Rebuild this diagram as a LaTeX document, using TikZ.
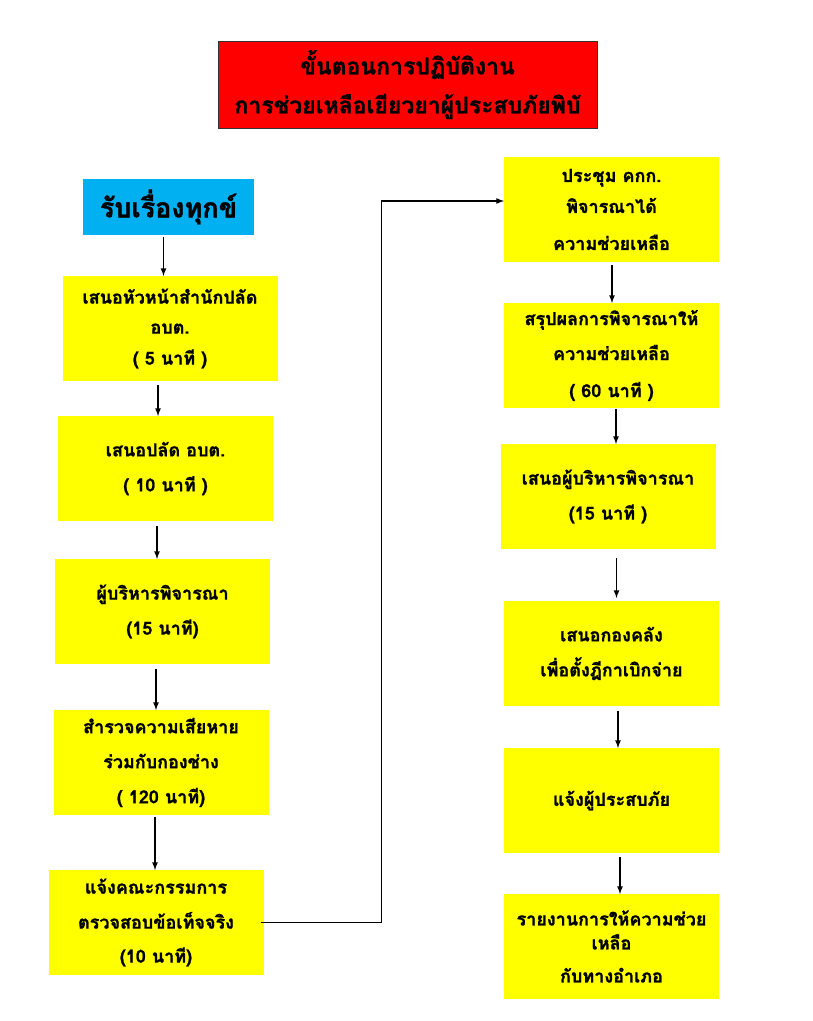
\documentclass[tikz,border=0pt]{standalone}
\usepackage{fontspec}
\setmainfont[Script=Thai, BoldFeatures={FakeBold=1.2}]{Loma}
\usepackage{xcolor}
\usetikzlibrary{arrows,shapes,positioning,calc}

\definecolor{boxyellow}{RGB}{255,255,0}
\definecolor{boxblue}{RGB}{0,176,240}
\definecolor{boxred}{RGB}{255,0,0}

\tikzset{
    stepbox/.style={rectangle, fill=boxyellow, minimum width=215pt, minimum height=105pt,
        inner sep=0pt, outer sep=0pt, align=center, font=\fontsize{18}{35}\selectfont\bfseries},
    flow/.style={->, >=latex, line width=1.6pt}
}

\begin{document}
\begin{tikzpicture}[node distance=40pt]
    \useasboundingbox (0,0) rectangle (812pt,-1021pt);

    \node[draw=black!80, line width=0.8pt, fill=boxred, minimum width=379pt, minimum height=87pt,
        align=center, font=\fontsize{23}{39}\selectfont\bfseries] (title) at (407.5pt,-84.5pt)
        {ขั้นตอนการปฏิบัติงาน\\การช่วยเหลือเยียวยาผู้ประสบภัยพิบั};

    % left column
    \node[fill=boxblue, minimum width=171pt, minimum height=56pt, outer sep=0pt,
        font=\fontsize{27}{30}\selectfont\bfseries] (rcv) at (168.5pt,-207pt) {รับเรื่องทุกข์};
    \node[stepbox, below=41pt of rcv, xshift=1.5pt] (head) {เสนอหัวหน้าสำนักปลัด\\[-5pt]อบต.\\[-4pt]( 5 นาที )};
    \node[stepbox, below=35pt of head, xshift=-4.5pt] (clerk) {เสนอปลัด อบต.\\( 10 นาที )};
    \node[stepbox, below=38pt of clerk, xshift=-3pt] (exec) {ผู้บริหารพิจารณา\\(15 นาที)};
    \node[stepbox, below=46pt of exec, xshift=-1.5pt] (survey) {สำรวจความเสียหาย\\ร่วมกับกองช่าง\\( 120 นาที)};
    \node[stepbox, below=55pt of survey, xshift=-5pt] (inform) {แจ้งคณะกรรมการ\\ตรวจสอบข้อเท็จจริง\\[-1pt](10 นาที)};

    % right column
    \node[stepbox] (meet) at (611.5pt,-209.5pt) {ประชุม คกก.\\[-4pt]พิจารณาได้\\[2pt]ความช่วยเหลือ};
    \node[stepbox, below=41pt of meet] (sum) {สรุปผลการพิจารณาให้\\ความช่วยเหลือ\\[2pt]( 60 นาที )};
    \node[stepbox, below=36pt of sum, xshift=-3.5pt] (propose) {เสนอผู้บริหารพิจารณา\\(15 นาที )};
    \node[stepbox, below=52pt of propose, xshift=3.5pt] (fin) {เสนอกองคลัง\\เพื่อตั้งฎีกาเบิกจ่าย};
    \node[stepbox, below=42pt of fin] (notify) {แจ้งผู้ประสบภัย};
    \node[stepbox, below=41pt of notify] (report) {รายงานการให้ความช่วย\\[-11pt]เหลือ\\[-2pt]กับทางอำเภอ};

    \draw[flow] ([xshift=-5pt,yshift=-2pt]rcv.south) -- ([xshift=-5pt]rcv.south |- head.north);
    \draw[flow] ([xshift=-12pt,yshift=-4pt]head.south) -- ([xshift=-12pt]head.south |- clerk.north);
    \draw[flow] ([xshift=-8.5pt,yshift=-5pt]clerk.south) -- ([xshift=-8.5pt]clerk.south |- exec.north);
    \draw[flow] ([xshift=-6.5pt,yshift=-5pt]exec.south) -- ([xshift=-6.5pt]exec.south |- survey.north);
    \draw[flow] ([xshift=-6pt,yshift=-2pt]survey.south) -- ([xshift=-6pt]survey.south |- inform.north);

    \draw[flow] ([xshift=-3pt]inform.east) -- ([xshift=118pt]inform.east) |- ([yshift=8.5pt]meet.west);

    \draw[flow] ([xshift=0.5pt,yshift=-3pt]meet.south) -- ([xshift=0.5pt]meet.south |- sum.north);
    \draw[flow] ([xshift=4.5pt,yshift=-1pt]sum.south) -- ([xshift=4.5pt]sum.south |- propose.north);
    \draw[flow] ([xshift=8.5pt,yshift=-9pt]propose.south) -- ([xshift=8.5pt,yshift=3pt]propose.south |- fin.north);
    \draw[flow] ([xshift=6.5pt,yshift=-5pt]fin.south) -- ([xshift=6.5pt]fin.south |- notify.north);
    \draw[flow] ([xshift=8.5pt,yshift=-4pt]notify.south) -- ([xshift=8.5pt]notify.south |- report.north);
\end{tikzpicture}
\end{document}
